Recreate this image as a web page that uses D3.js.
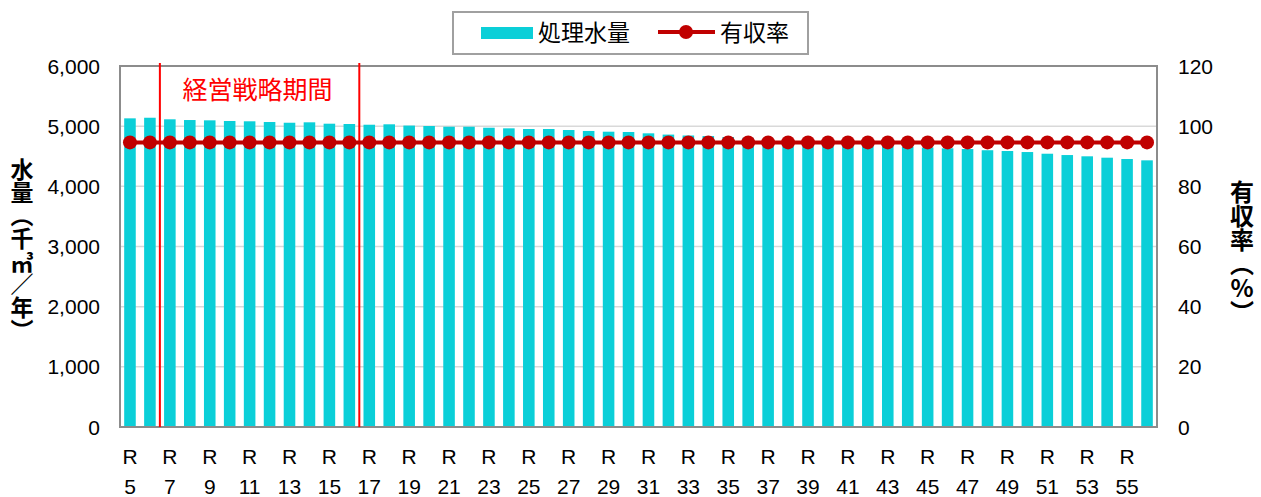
<!DOCTYPE html>
<html>
<head>
<meta charset="utf-8">
<script src="https://cdn.jsdelivr.net/npm/d3@7"></script>
<style>
  body { margin: 0; background: #fff; }
  svg { display: block; font-family: "Liberation Sans", Arial, sans-serif; }
  .jp { font-family: "Noto Sans CJK JP", sans-serif; }
</style>
</head>
<body>
<svg width="1261" height="497"></svg>
<script>
// categories R5..R56
var years = [5,6,7,8,9,10,11,12,13,14,15,16,17,18,19,20,21,22,23,24,25,26,27,28,29,30,
             31,32,33,34,35,36,37,38,39,40,41,42,43,44,45,46,47,48,49,50,51,52,53,54,55,56];
// 処理水量 (千㎥/年)
var volume = [5130,5140,5114,5102,5097,5086,5081,5069,5057,5064,5041,5036,5024,5031,5010,5003,
              4991,4991,4974,4964,4953,4953,4936,4920,4908,4903,4881,4860,4845,4836,4820,4805,
              4790,4772,4755,4738,4720,4700,4682,4660,4645,4632,4620,4600,4587,4570,4542,4520,
              4499,4476,4454,4432];
// 有収率 (%)
var rate = [94.6,94.6,94.6,94.6,94.6,94.6,94.6,94.6,94.6,94.6,94.6,94.6,94.6,94.6,94.6,94.6,
            94.6,94.6,94.6,94.6,94.6,94.6,94.6,94.6,94.6,94.6,94.6,94.6,94.6,94.6,94.6,94.6,
            94.6,94.6,94.6,94.6,94.6,94.6,94.6,94.6,94.6,94.6,94.6,94.6,94.6,94.6,94.6,94.6,
            94.6,94.6,94.6,94.6];
var leftTicks = [0,1000,2000,3000,4000,5000,6000];
var rightTicks = [0,20,40,60,80,100,120];
var periodStart = 7, periodEnd = 16;

var svg = d3.select("svg");
var pLeft = 120, pRight = 1157, pTop = 66, pBottom = 427;

var x = d3.scaleBand().domain(years).range([pLeft, pRight]).paddingInner(0.42).paddingOuter(0.21);
var xOuter = d3.scaleBand().domain(years).range([pLeft, pRight]);
var y = d3.scaleLinear().domain([0, 6000]).range([pBottom, pTop]);
var y2 = d3.scaleLinear().domain([0, 120]).range([pBottom, pTop]);

// gridlines
svg.append("g").selectAll("line").data(leftTicks.slice(1, -1)).enter().append("line")
  .attr("x1", pLeft).attr("x2", pRight)
  .attr("y1", function(d) { return y(d); }).attr("y2", function(d) { return y(d); })
  .attr("stroke", "#d9d9d9").attr("stroke-width", 1.5);

// bars
svg.append("g").selectAll("rect").data(volume).enter().append("rect")
  .attr("x", function(d, i) { return x(years[i]); })
  .attr("width", x.bandwidth())
  .attr("y", function(d) { return y(d); })
  .attr("height", function(d) { return pBottom - y(d); })
  .attr("fill", "#0bcfd8");

// plot border
svg.append("rect").attr("x", pLeft).attr("y", pTop)
  .attr("width", pRight - pLeft).attr("height", pBottom - pTop)
  .attr("fill", "none").attr("stroke", "#8c8c8c").attr("stroke-width", 2);

// period lines
[periodStart, periodEnd + 1].forEach(function(v) {
  var px = xOuter(v);
  svg.append("line").attr("x1", px).attr("x2", px).attr("y1", pTop - 3).attr("y2", pBottom)
    .attr("stroke", "#ff0000").attr("stroke-width", 2);
});
svg.append("text").attr("class", "jp")
  .attr("x", (xOuter(periodStart) + xOuter(periodEnd + 1)) / 2 - 2).attr("y", 99)
  .attr("text-anchor", "middle").attr("fill", "#ff0000").attr("font-size", 25)
  .text("経営戦略期間");

// rate line
var line = d3.line()
  .x(function(d, i) { return xOuter(years[i]) + xOuter.bandwidth() / 2; })
  .y(function(d) { return y2(d); });
svg.append("path").datum(rate).attr("d", line)
  .attr("fill", "none").attr("stroke", "#c00000").attr("stroke-width", 4);
svg.append("g").selectAll("circle").data(rate).enter().append("circle")
  .attr("cx", function(d, i) { return xOuter(years[i]) + xOuter.bandwidth() / 2; })
  .attr("cy", function(d) { return y2(d); })
  .attr("r", 7).attr("fill", "#c00000");

// axes labels
svg.append("g").selectAll("text").data(leftTicks).enter().append("text")
  .attr("x", 100).attr("y", function(d) { return y(d) + 7.5; })
  .attr("text-anchor", "end").attr("font-size", 21).attr("fill", "#000")
  .text(function(d) { return d3.format(",")(d); });
svg.append("g").selectAll("text").data(rightTicks).enter().append("text")
  .attr("x", 1178).attr("y", function(d) { return y2(d) + 7.5; })
  .attr("text-anchor", "start").attr("font-size", 21).attr("fill", "#000")
  .text(function(d) { return d; });

var xl = svg.append("g").selectAll("g").data(years.filter(function(d) { return d % 2 == 1; }))
  .enter().append("g")
  .attr("transform", function(d) { return "translate(" + (xOuter(d) + xOuter.bandwidth() / 2) + ",0)"; });
xl.append("text").attr("y", 464).attr("text-anchor", "middle").attr("font-size", 21).text("R");
xl.append("text").attr("y", 494).attr("text-anchor", "middle").attr("font-size", 21)
  .text(function(d) { return d; });

// axis titles (vertical)
svg.append("text").attr("class", "jp")
  .attr("x", 22).attr("y", 158)
  .attr("font-size", 23).attr("font-weight", "bold")
  .style("writing-mode", "vertical-rl").style("text-orientation", "upright")
  .text("水量（千㎥／年）");
svg.append("text").attr("class", "jp")
  .attr("x", 1242).attr("y", 180)
  .attr("font-size", 24).attr("font-weight", "bold")
  .style("writing-mode", "vertical-rl").style("text-orientation", "upright")
  .text("有収率（%）");

// legend
var lg = svg.append("g");
lg.append("rect").attr("x", 453).attr("y", 12).attr("width", 355).attr("height", 42)
  .attr("fill", "#fff").attr("stroke", "#a0a0a0").attr("stroke-width", 2);
lg.append("rect").attr("x", 481).attr("y", 27).attr("width", 52).attr("height", 12).attr("fill", "#0bcfd8");
lg.append("text").attr("class", "jp").attr("x", 538).attr("y", 41).attr("font-size", 23).text("処理水量");
lg.append("line").attr("x1", 658).attr("x2", 715).attr("y1", 32).attr("y2", 32)
  .attr("stroke", "#c00000").attr("stroke-width", 4);
lg.append("circle").attr("cx", 686).attr("cy", 32).attr("r", 7).attr("fill", "#c00000");
lg.append("text").attr("class", "jp").attr("x", 720).attr("y", 41).attr("font-size", 23).text("有収率");
</script>
</body>
</html>
